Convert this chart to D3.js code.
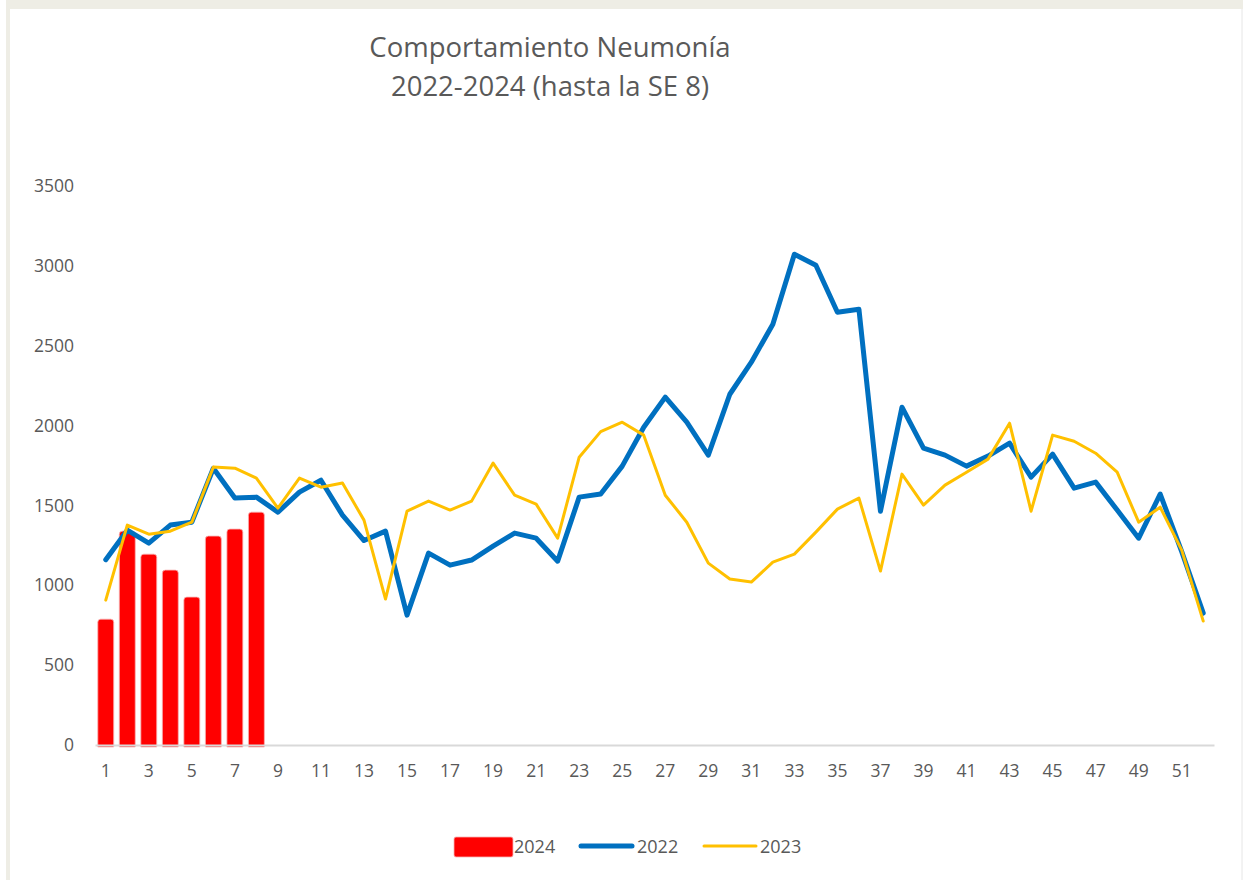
<!DOCTYPE html>
<html>
<head>
<meta charset="utf-8">
<script src="https://cdn.jsdelivr.net/npm/d3@7"></script>
<style>
  body { margin: 0; background: #fff; }
  text { font-family: "Open Sans", "Noto Sans", sans-serif; fill: #595959; }
  .axis text { font-size: 17.5px; fill: #595959; }
  .legend text { font-size: 18px; }
</style>
</head>
<body>
<div id="chart"></div>
<script>
// weeks 1..52 (SE)
const weeks = d3.range(1, 53);

// 2022 cases per week
const cases2022 = [1160, 1345, 1264, 1377, 1395, 1733, 1546, 1552, 1458, 1583,
  1658, 1439, 1280, 1339, 813, 1201, 1126, 1158, 1245, 1327,
  1295, 1151, 1552, 1571, 1746, 1990, 2178, 2021, 1815, 2196,
  2397, 2635, 3073, 3004, 2710, 2728, 1464, 2115, 1859, 1815,
  1746, 1809, 1890, 1677, 1821, 1608, 1646, 1471, 1295, 1571,
  1210, 826];

// 2023 cases per week
const cases2023 = [907, 1377, 1320, 1339, 1395, 1740, 1733, 1671, 1483, 1671,
  1614, 1640, 1408, 914, 1464, 1527, 1471, 1527, 1765, 1564,
  1508, 1295, 1802, 1962, 2021, 1940, 1564, 1395, 1139, 1039,
  1020, 1145, 1195, 1333, 1477, 1546, 1089, 1696, 1502, 1627,
  1708, 1790, 2015, 1464, 1940, 1902, 1827, 1708, 1395, 1489,
  1220, 776];

// 2024 up to SE 8
const cases2024 = [788, 1339, 1195, 1095, 926, 1308, 1352, 1458];

const yTicks = [0, 500, 1000, 1500, 2000, 2500, 3000, 3500];

const width = 1243, height = 880;

const svg = d3.select('#chart').append('svg')
    .attr('width', width)
    .attr('height', height);

// beige frame like the original sheet
svg.append('rect').attr('x', 0).attr('y', 0).attr('width', width).attr('height', 9).attr('fill', '#eeede5');
svg.append('rect').attr('x', 6).attr('y', 0).attr('width', 4).attr('height', height).attr('fill', '#eeede5');
svg.append('rect').attr('x', 0).attr('y', 0).attr('width', 6).attr('height', 9).attr('fill', '#fff');
svg.append('line').attr('x1', 1242).attr('x2', 1242).attr('y1', 9).attr('y2', height)
    .attr('stroke', '#e6e6e6');

const xScale = d3.scaleBand()
    .domain(weeks)
    .range([95, 1214])
    .paddingInner(0.26)
    .paddingOuter(0.13);

const xCenter = d => xScale(d) + xScale.bandwidth() / 2;

const yScale = d3.scaleLinear()
    .domain([0, 3500])
    .range([745, 186]);

// title
const title = svg.append('text')
    .attr('text-anchor', 'middle')
    .style('font-size', '27.5px');
title.append('tspan').attr('x', 550).attr('y', 57).text('Comportamiento Neumonía');
title.append('tspan').attr('x', 550).attr('y', 96).text('2022-2024 (hasta la SE 8)');

// axes
const yAxis = d3.axisLeft(yScale)
    .tickValues(yTicks)
    .tickFormat(d3.format('d'))
    .tickSize(0)
    .tickPadding(21);
svg.append('g')
    .attr('class', 'axis y-axis')
    .attr('transform', 'translate(95,0)')
    .call(yAxis)
    .call(g => g.select('.domain').remove());

// bars 2024
svg.selectAll('.bar')
    .data(cases2024)
  .join('path')
    .attr('class', 'bar')
    .attr('d', (d, i) => {
      const x = xScale(weeks[i]), w = xScale.bandwidth();
      const y0 = yScale(0) + 2, y1 = yScale(d), r = 3;
      return `M${x},${y0}V${y1 + r}Q${x},${y1} ${x + r},${y1}H${x + w - r}Q${x + w},${y1} ${x + w},${y1 + r}V${y0}Z`;
    })
    .attr('fill', '#ff0000')
    .attr('stroke', '#f7b3b3')
    .attr('stroke-width', 0.8);

const xAxis = d3.axisBottom(xScale)
    .tickValues(weeks.filter(d => d % 2 === 1))
    .tickSize(0)
    .tickPadding(20);
const xAxisG = svg.append('g')
    .attr('class', 'axis x-axis')
    .attr('transform', `translate(0,${yScale(0)})`)
    .call(xAxis);
xAxisG.select('.domain')
    .attr('stroke', '#d9d9d9')
    .attr('stroke-width', 2);

// lines
const line = d3.line()
    .x((d, i) => xCenter(weeks[i]))
    .y(d => yScale(d));

svg.append('path')
    .datum(cases2022)
    .attr('d', line)
    .attr('fill', 'none')
    .attr('stroke', '#0070c0')
    .attr('stroke-width', 5)
    .attr('stroke-linejoin', 'round')
    .attr('stroke-linecap', 'round');

svg.append('path')
    .datum(cases2023)
    .attr('d', line)
    .attr('fill', 'none')
    .attr('stroke', '#ffc000')
    .attr('stroke-width', 3)
    .attr('stroke-linejoin', 'round')
    .attr('stroke-linecap', 'round');

// legend
const legend = svg.append('g').attr('class', 'legend');
legend.append('rect')
    .attr('x', 454).attr('y', 837).attr('width', 59).attr('height', 20).attr('rx', 2)
    .attr('fill', '#ff0000').attr('stroke', '#f7b3b3').attr('stroke-width', 0.8);
legend.append('text').attr('x', 514).attr('y', 853).text('2024');
legend.append('line')
    .attr('x1', 581).attr('x2', 632).attr('y1', 846).attr('y2', 846)
    .attr('stroke', '#0070c0').attr('stroke-width', 5).attr('stroke-linecap', 'round');
legend.append('text').attr('x', 637).attr('y', 853).text('2022');
legend.append('line')
    .attr('x1', 704).attr('x2', 756).attr('y1', 846).attr('y2', 846)
    .attr('stroke', '#ffc000').attr('stroke-width', 3).attr('stroke-linecap', 'round');
legend.append('text').attr('x', 760).attr('y', 853).text('2023');
</script>
</body>
</html>
